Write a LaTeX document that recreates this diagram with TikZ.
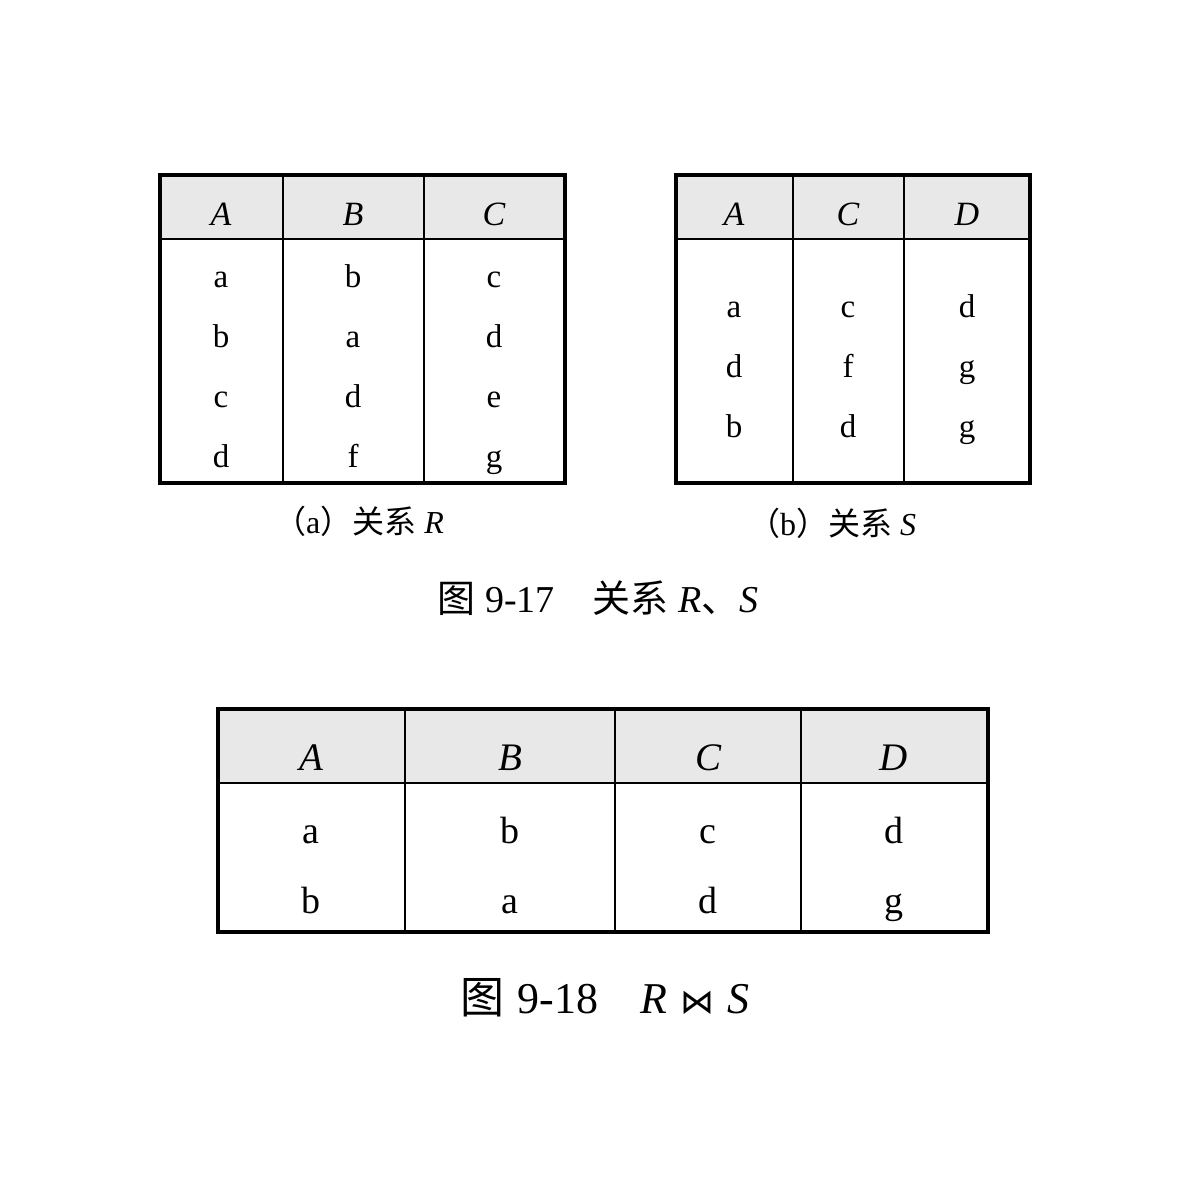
\documentclass[tikz,border=0pt]{standalone}
\usepackage{fontspec}
\setmainfont{Liberation Serif}
\newfontfamily\cjk{Noto Sans CJK SC}
\newfontfamily\symfont{DejaVu Sans}
\definecolor{hdrgray}{HTML}{E8E8E8}
\begin{document}
\begin{tikzpicture}[x=1pt,y=-1pt,
  frame/.style={line width=3.4pt},
  inner/.style={line width=2.8pt},
  hdr/.style={anchor=base,inner sep=0pt,font=\fontsize{34}{34}\selectfont\itshape},
  cell/.style={anchor=base,inner sep=0pt,font=\fontsize{33}{33}\selectfont},
  hdrb/.style={anchor=base,inner sep=0pt,font=\fontsize{39}{39}\selectfont\itshape},
  cellb/.style={anchor=base,inner sep=0pt,font=\fontsize{38}{38}\selectfont},
  subcap/.style={anchor=base,inner sep=0pt,font=\fontsize{32}{32}\selectfont},
  figcap/.style={anchor=base,inner sep=0pt,font=\fontsize{38}{38}\selectfont}]
\useasboundingbox[fill=white] (0,0) rectangle (1200,1200);

% ---------- Table R ----------
\fill[hdrgray] (160,175) rectangle (565,239);
\draw[inner] (160,239) -- (565,239);
\draw[inner] (283,175) -- (283,483);
\draw[inner] (424,175) -- (424,483);
\draw[frame] (160,175) rectangle (565,483);
\node[hdr] (rA) at (221,225) {A};
\node[hdr] (rB) at (353,225) {B};
\node[hdr] (rC) at (494,225) {C};
\node[cell] (r11) at (221,287) {a};
\node[cell] (r12) at (353,287) {b};
\node[cell] (r13) at (494,287) {c};
\node[cell] (r21) at (221,347) {b};
\node[cell] (r22) at (353,347) {a};
\node[cell] (r23) at (494,347) {d};
\node[cell] (r31) at (221,407) {c};
\node[cell] (r32) at (353,407) {d};
\node[cell] (r33) at (494,407) {e};
\node[cell] (r41) at (221,467) {d};
\node[cell] (r42) at (353,467) {f};
\node[cell] (r43) at (494,467) {g};
\node[subcap] (capa) at (359,533) {{\cjk （}a{\cjk ）关系} \textit{R}};

% ---------- Table S ----------
\fill[hdrgray] (676,175) rectangle (1030,239);
\draw[inner] (676,239) -- (1030,239);
\draw[inner] (793,175) -- (793,483);
\draw[inner] (904,175) -- (904,483);
\draw[frame] (676,175) rectangle (1030,483);
\node[hdr] (sA) at (734,225) {A};
\node[hdr] (sC) at (848,225) {C};
\node[hdr] (sD) at (967,225) {D};
\node[cell] (s11) at (734,317) {a};
\node[cell] (s12) at (848,317) {c};
\node[cell] (s13) at (967,317) {d};
\node[cell] (s21) at (734,377) {d};
\node[cell] (s22) at (848,377) {f};
\node[cell] (s23) at (967,377) {g};
\node[cell] (s31) at (734,437) {b};
\node[cell] (s32) at (848,437) {d};
\node[cell] (s33) at (967,437) {g};
\node[subcap] (capb) at (832,535) {{\cjk （}b{\cjk ）关系} \textit{S}};

\node[figcap] (fig17) at (598,612) {{\cjk 图} 9-17\hspace{1em}{\cjk 关系} \textit{R}{\cjk 、}\textit{S}};

% ---------- Table R join S ----------
\fill[hdrgray] (218,709) rectangle (988,783);
\draw[inner] (218,783) -- (988,783);
\draw[inner] (405,709) -- (405,932);
\draw[inner] (615,709) -- (615,932);
\draw[inner] (801,709) -- (801,932);
\draw[frame] (218,709) rectangle (988,932);
\node[hdrb] (jA) at (311,770) {A};
\node[hdrb] (jB) at (510,770) {B};
\node[hdrb] (jC) at (708,770) {C};
\node[hdrb] (jD) at (894,770) {D};
\node[cellb] (j11) at (311,843) {a};
\node[cellb] (j12) at (510,843) {b};
\node[cellb] (j13) at (708,843) {c};
\node[cellb] (j14) at (894,843) {d};
\node[cellb] (j21) at (311,913) {b};
\node[cellb] (j22) at (510,913) {a};
\node[cellb] (j23) at (708,913) {d};
\node[cellb] (j24) at (894,913) {g};

\node[figcap,font=\fontsize{44}{44}\selectfont] (fig18) at (605,1013) {{\cjk 图}\hspace{0.3em}9-18\hspace{0.95em}\textit{R}\hspace{0.3em}{\symfont\fontsize{34}{34}\selectfont ⋈}\hspace{0.3em}\textit{S}};
\end{tikzpicture}
\end{document}
